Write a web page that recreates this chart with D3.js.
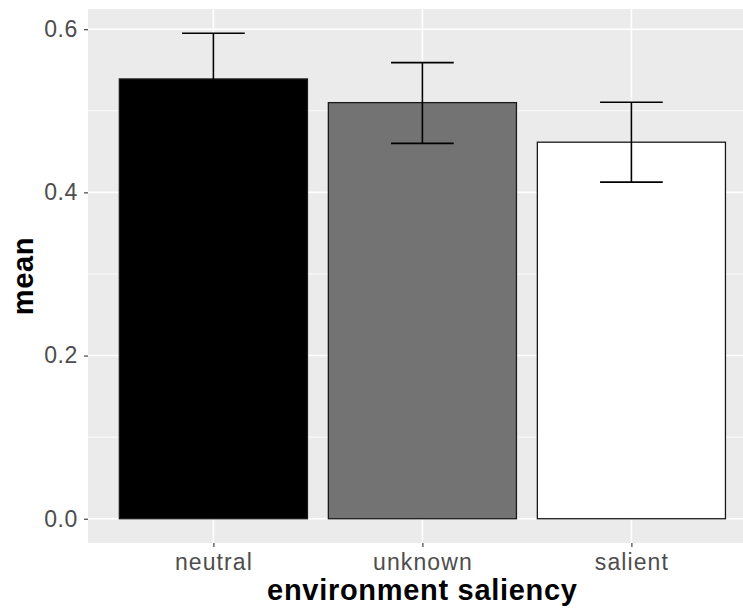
<!DOCTYPE html>
<html>
<head>
<meta charset="utf-8">
<script src="https://cdn.jsdelivr.net/npm/d3@7"></script>
<style>
  body { margin: 0; background: #fff; }
  text { font-family: "Liberation Sans", Arial, sans-serif; }
</style>
</head>
<body>
<script>
// data
let categories = ["neutral", "unknown", "salient"]
let means = [0.539, 0.510, 0.4615]
let upper = [0.595, 0.559, 0.5105]
let lower = [0.483, 0.460, 0.4126]
let fills = ["#000000", "#737373", "#ffffff"]
let yTicks = [0, 0.2, 0.4, 0.6]
let yMinor = [0.1, 0.3, 0.5]

let width = 743, height = 611

// panel
let panel = {left: 88, top: 9, bottom: 543}
let unit = 209 // px per category step

// ggplot style: 1 unit per category, bars 0.9 wide, 0.6 expansion each side
let xc = d3.scalePoint()
    .domain(categories)
    .range([panel.left + 0.6 * unit, panel.left + 2.6 * unit])

let yMax = d3.max(upper)
let pad = yMax * 0.05
let y = d3.scaleLinear()
    .domain([-pad, yMax + pad])
    .range([panel.bottom, panel.top])

let svg = d3.select("body")
    .append("svg")
    .attr("width", width)
    .attr("height", height)

// background
svg.append("rect")
    .attr("x", panel.left)
    .attr("y", panel.top)
    .attr("width", width - panel.left + 20)
    .attr("height", panel.bottom - panel.top)
    .attr("fill", "#ebebeb")

let x0 = panel.left, x1 = width + 20

// minor grid
svg.selectAll(".minor")
    .data(yMinor)
    .enter()
    .append("line")
    .attr("x1", x0).attr("x2", x1)
    .attr("y1", d => y(d)).attr("y2", d => y(d))
    .attr("stroke", "#fff")
    .attr("stroke-width", 0.8)

// major grid
svg.selectAll(".major")
    .data(yTicks)
    .enter()
    .append("line")
    .attr("x1", x0).attr("x2", x1)
    .attr("y1", d => y(d)).attr("y2", d => y(d))
    .attr("stroke", "#fff")
    .attr("stroke-width", 1.6)

svg.selectAll(".vgrid")
    .data(categories)
    .enter()
    .append("line")
    .attr("x1", d => xc(d)).attr("x2", d => xc(d))
    .attr("y1", panel.top).attr("y2", panel.bottom)
    .attr("stroke", "#fff")
    .attr("stroke-width", 1.6)

// bars
let barW = 0.9 * unit
svg.selectAll(".bar")
    .data(categories)
    .enter()
    .append("rect")
    .attr("x", d => xc(d) - barW / 2)
    .attr("width", barW)
    .attr("y", (d, i) => y(means[i]))
    .attr("height", (d, i) => y(0) - y(means[i]))
    .attr("fill", (d, i) => fills[i])
    .attr("stroke", "#1a1a1a")
    .attr("stroke-width", 1.3)

// error bars
let capW = 0.3 * unit
let eb = svg.selectAll(".err")
    .data(categories)
    .enter()
    .append("g")
    .attr("stroke", "#000")
    .attr("stroke-width", 1.6)
    .attr("fill", "none")

eb.append("line")
    .attr("x1", d => xc(d)).attr("x2", d => xc(d))
    .attr("y1", (d, i) => y(upper[i])).attr("y2", (d, i) => y(lower[i]))
eb.append("line")
    .attr("x1", d => xc(d) - capW / 2).attr("x2", d => xc(d) + capW / 2)
    .attr("y1", (d, i) => y(upper[i])).attr("y2", (d, i) => y(upper[i]))
eb.append("line")
    .attr("x1", d => xc(d) - capW / 2).attr("x2", d => xc(d) + capW / 2)
    .attr("y1", (d, i) => y(lower[i])).attr("y2", (d, i) => y(lower[i]))

// y axis
let yAxis = svg.append("g")
    .attr("transform", "translate(" + panel.left + ",0)")
    .call(d3.axisLeft(y).tickValues(yTicks).tickFormat(d3.format(".1f")).tickSize(4).tickPadding(6))
yAxis.select(".domain").remove()
yAxis.selectAll("line").attr("stroke", "#333").attr("stroke-width", 1.1)
yAxis.selectAll("text")
    .attr("fill", "#4d4d4d")
    .style("font-size", "23px")
    .style("letter-spacing", "0.6px")

// x axis
let xAxis = svg.append("g")
    .attr("transform", "translate(0," + panel.bottom + ")")
    .call(d3.axisBottom(xc).tickSize(4).tickPadding(7))
xAxis.select(".domain").remove()
xAxis.selectAll("line").attr("stroke", "#333").attr("stroke-width", 1.1)
xAxis.selectAll("text")
    .attr("fill", "#4d4d4d")
    .style("font-size", "23px")
    .style("letter-spacing", "1.1px")

// titles
svg.append("text")
    .attr("x", panel.left + 1.6 * unit)
    .attr("y", 600)
    .attr("text-anchor", "middle")
    .style("font-size", "29px")
    .style("font-weight", "bold")
    .style("letter-spacing", "0.7px")
    .text("environment saliency")

svg.append("text")
    .attr("transform", "translate(33," + (panel.top + panel.bottom) / 2 + ") rotate(-90)")
    .attr("text-anchor", "middle")
    .style("font-size", "29px")
    .style("font-weight", "bold")
    .style("letter-spacing", "0.7px")
    .text("mean")
</script>
</body>
</html>
